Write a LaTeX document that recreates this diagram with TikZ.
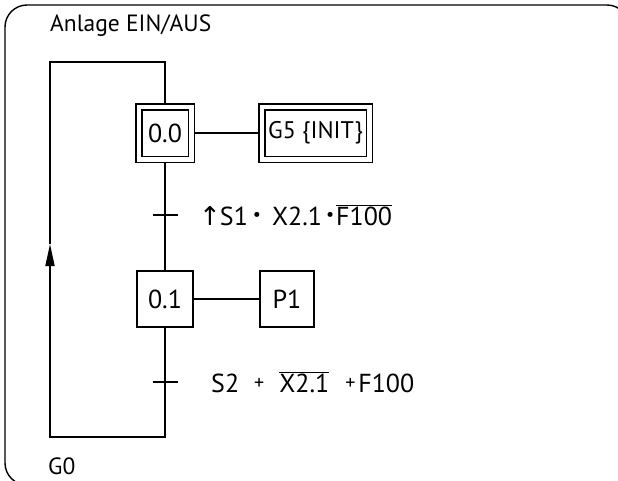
\documentclass[tikz,border=0pt]{standalone}
\usepackage{fontspec}
\setmainfont{PT Sans}
\newfontfamily\symfont{DejaVu Sans}
\usetikzlibrary{arrows.meta, positioning}
\newcommand{\negbar}[1]{$\overline{\hbox{#1}}$}
\newcommand{\andsym}{\raisebox{4.5pt}{\fontsize{18}{18}\selectfont\textbullet}}
\newcommand{\orsym}{\raisebox{3pt}{\fontsize{20}{20}\selectfont +}}
\tikzset{
  %% Step of the chart
  stepbox/.style={
    rectangle, draw=black, line width=1.8pt,
    minimum width=56.2pt, minimum height=56.2pt,
    inner sep=2pt, font=\fontsize{26}{30}\selectfont
  },
  %% Initial step: double frame
  initstep/.style={
    stepbox, double, line width=1.5pt, double distance=4.5pt,
    minimum width=52.5pt, minimum height=52.5pt, outer sep=3.75pt
  },
  %% Connector lines
  flow/.style={draw=black, line width=1.8pt},
  tickmark/.style={draw=black, line width=1.6pt},
  %% Transition conditions
  cond/.style={anchor=base west, inner sep=0pt,
               font=\fontsize{26}{30}\selectfont},
  title/.style={anchor=base west, inner sep=0pt,
                font=\fontsize{23.5}{26}\selectfont},
  frame/.style={draw=black, line width=1.4pt, rounded corners=22pt},
}
\begin{document}
\begin{tikzpicture}[x=1pt, y=-1pt]
  \useasboundingbox (0,0) rectangle (618,480);
  \clip (0,0) rectangle (618,480);

  %% Outer frame and names
  \draw[frame] (5,5) rectangle (629,485);
  \node[title] (name) at (50,31) {Anlage EIN/AUS};
  \node[title] (gname) at (48,474) {G0};

  %% Steps and actions
  \node[initstep] (s00) at (165,133) {0.0};
  \node[initstep, minimum width=107.5pt, font=\fontsize{24}{28}\selectfont,
        right=63pt of s00] (g5) {G5 \{INIT\}};
  \node[stepbox, below=107pt of s00] (s01) {0.1};
  \node[stepbox, minimum width=54pt, right=65pt of s01] (p1) {P1};

  %% Transitions and loop corners
  \coordinate (t1) at (165,215);
  \coordinate (t2) at (165,382);
  \coordinate (lbr) at (165,437);
  \coordinate (lbl) at (50,437);
  \coordinate (larr) at (50,244);
  \coordinate (ltl) at (50,62);
  \coordinate (ltr) at (165,62);

  %% Lines
  \draw[flow] (s00) -- (g5);
  \draw[flow] (s00) -- (s01);
  \draw[flow] (s01) -- (p1);
  \draw[flow, -{Triangle[length=22pt, width=9pt]}]
    (s01) -- (lbr) -- (lbl) -- (larr);
  \draw[flow] (larr) -- (ltl) -- (ltr) -- (s00);

  \draw[tickmark] (t1) +(-12.5,0) -- +(12.5,0);
  \draw[tickmark] (t2) +(-12.5,0) -- +(12.5,0);

  %% Conditions
  \node[cond] (c1) at (199,225)
    {{\symfont\fontsize{26}{26}\selectfont\char"2191}\hspace{-1pt}S1\hspace{5pt}\andsym\hspace{11pt}X2.1\hspace{4pt}\andsym\hspace{2pt}\negbar{F100}};
  \node[cond] (c2) at (211,392)
    {S2\hspace{15pt}\orsym\hspace{15pt}\negbar{X2.1}\hspace{16pt}\orsym\hspace{3pt}F100};
\end{tikzpicture}
\end{document}
